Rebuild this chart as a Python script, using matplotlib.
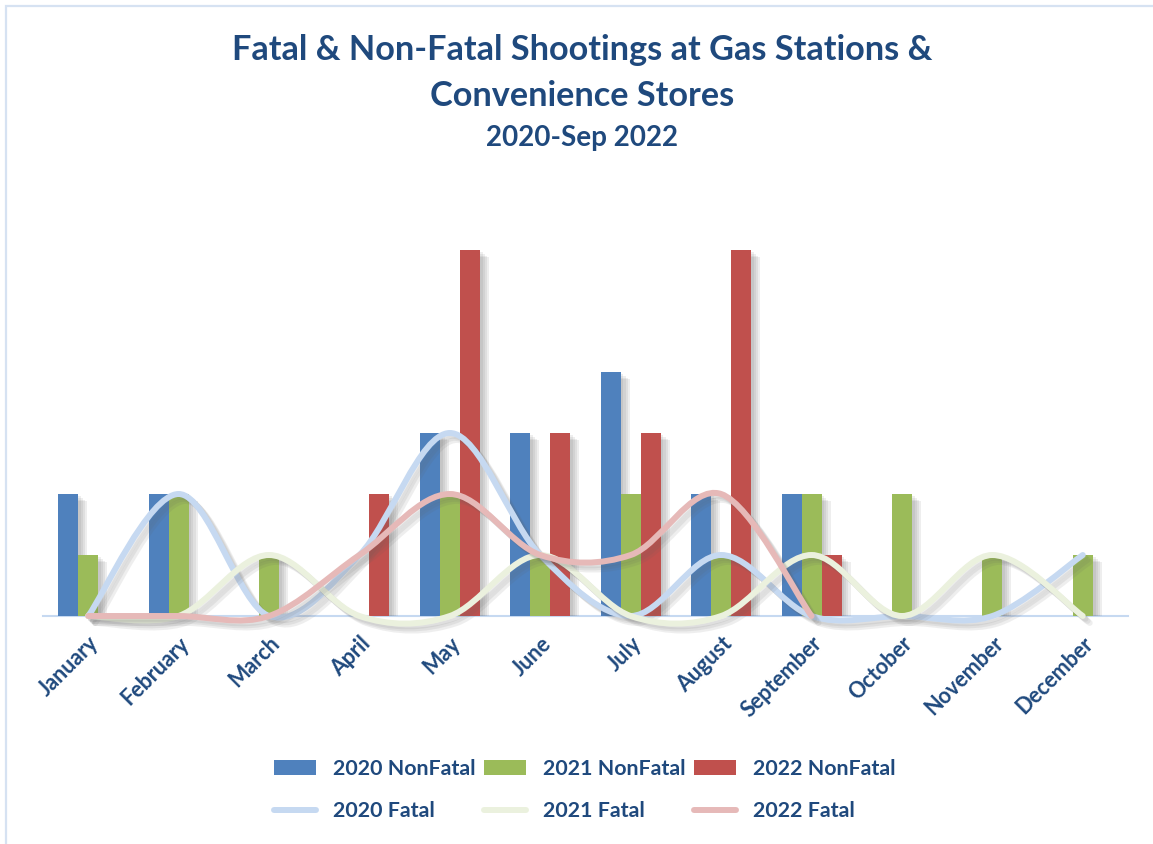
import numpy as np
import matplotlib
matplotlib.use("Agg")
import matplotlib.pyplot as plt
import matplotlib.patheffects as pe
from matplotlib.path import Path
from matplotlib.patches import PathPatch, Rectangle
from matplotlib.lines import Line2D

months = ["January", "February", "March", "April", "May", "June", "July",
          "August", "September", "October", "November", "December"]

nonfatal_2020 = [2, 2, 0, 0, 3, 3, 4, 2, 2, 0, 0, 0]
nonfatal_2021 = [1, 2, 1, 0, 2, 1, 2, 1, 2, 2, 1, 1]
nonfatal_2022 = [0, 0, 0, 2, 6, 3, 3, 6, 1, 0, 0, 0]

fatal_2020 = [0, 2, 0, 1, 3, 1, 0, 1, 0, 0, 0, 1]
fatal_2021 = [0, 0, 1, 0, 0, 1, 0, 0, 1, 0, 1, 0]
fatal_2022 = [0, 0, 0, 1, 2, 1, 1, 2, 0]

TEXT = "#1F497D"
C_BARS = ["#4F81BD", "#9BBB59", "#C0504D"]
C_LINES = ["#C6D9F1", "#EBF1DE", "#E6B9B8"]
FONT = "Lato"

plt.rcParams["font.family"] = [FONT, "DejaVu Sans"]

fig = plt.figure(figsize=(11.53, 8.44), dpi=100)
fig.patches.append(Rectangle((6 / 1153, -0.1), 1.2, 1 - 6 / 844 + 0.1,
                             transform=fig.transFigure, fill=False,
                             edgecolor="#D6E2F2", linewidth=1.6))

ax = fig.add_axes([43 / 1153, (844 - 616) / 844, 1085 / 1153, 427 / 844])
ax.set_xlim(-0.5, 11.5)
ax.set_ylim(0, 7)

x = np.arange(len(months))
w = 0.2213
# soft drop shadow built from a few offset layers
bar_shadow = [pe.SimplePatchShadow(offset=(o, -o * 0.8), shadow_rgbFace="#606060", alpha=0.1)
              for o in (2, 3.5, 5, 6.5)] + [pe.Normal()]
for i, (vals, col) in enumerate(zip([nonfatal_2020, nonfatal_2021, nonfatal_2022], C_BARS)):
    ax.bar(x + (i - 1) * w, vals, width=w, color=col, zorder=2,
           path_effects=bar_shadow)


def smooth_path(vals):
    # Excel-style smoothed line: cubic bezier with catmull-rom control points
    pts = np.column_stack([np.arange(len(vals)), vals]).astype(float)
    n = len(pts)
    verts = [pts[0]]
    codes = [Path.MOVETO]
    for i in range(n - 1):
        p0 = pts[max(i - 1, 0)]
        p1 = pts[i]
        p2 = pts[i + 1]
        p3 = pts[min(i + 2, n - 1)]
        c1 = p1 + (p2 - p0) / 6.0
        c2 = p2 - (p3 - p1) / 6.0
        verts += [c1, c2, p2]
        codes += [Path.CURVE4] * 3
    return Path(verts, codes)


line_shadow = [pe.SimpleLineShadow(offset=(o, -o), shadow_color="#606060", alpha=0.1)
               for o in (2, 3.5, 5)] + [pe.Normal()]
for vals, col in zip([fatal_2020, fatal_2021, fatal_2022], C_LINES):
    patch = PathPatch(smooth_path(vals), facecolor="none", edgecolor=col,
                      linewidth=4.3, capstyle="round", joinstyle="round",
                      zorder=3, clip_on=False, path_effects=line_shadow)
    ax.add_patch(patch)

for s in ["top", "right", "left"]:
    ax.spines[s].set_visible(False)
ax.spines["bottom"].set_color("#C6D9F1")
ax.spines["bottom"].set_linewidth(1.5)
ax.spines["bottom"].set_zorder(1)
ax.set_yticks([])
ax.set_xticks(x)
ax.set_xticklabels(months, rotation=45, ha="right", rotation_mode="anchor",
                   fontsize=15.5, fontweight="bold", color=TEXT)
ax.tick_params(axis="x", length=0, pad=12)

fig.text(0.505, 1 - 50 / 844, "Fatal & Non-Fatal Shootings at Gas Stations &",
         ha="center", va="center", fontsize=24.7, fontweight="bold", color=TEXT)
fig.text(0.505, 1 - 96 / 844, "Convenience Stores",
         ha="center", va="center", fontsize=24.7, fontweight="bold", color=TEXT)
fig.text(0.505, 1 - 138 / 844, "2020-Sep 2022",
         ha="center", va="center", fontsize=20, fontweight="bold", color=TEXT)

labels = ["2020 NonFatal", "2020 Fatal", "2021 NonFatal", "2021 Fatal",
          "2022 NonFatal", "2022 Fatal"]
handles = []
for bc, lc in zip(C_BARS, C_LINES):
    handles.append(Rectangle((0, 0), 1, 1, facecolor=bc))
    handles.append(Line2D([0], [0], color=lc, linewidth=4.3, solid_capstyle="round"))
leg = fig.legend(handles, labels, ncol=3, loc="center",
                 bbox_to_anchor=(585 / 1153, 1 - 790 / 844), frameon=False,
                 handlelength=1.96, handleheight=0.7, handletextpad=0.8,
                 columnspacing=0.4, labelspacing=1.05,
                 prop={"family": FONT, "weight": "bold", "size": 15.4})
for t in leg.get_texts():
    t.set_color(TEXT)

fig.savefig("out.png", dpi=100, facecolor="white")
